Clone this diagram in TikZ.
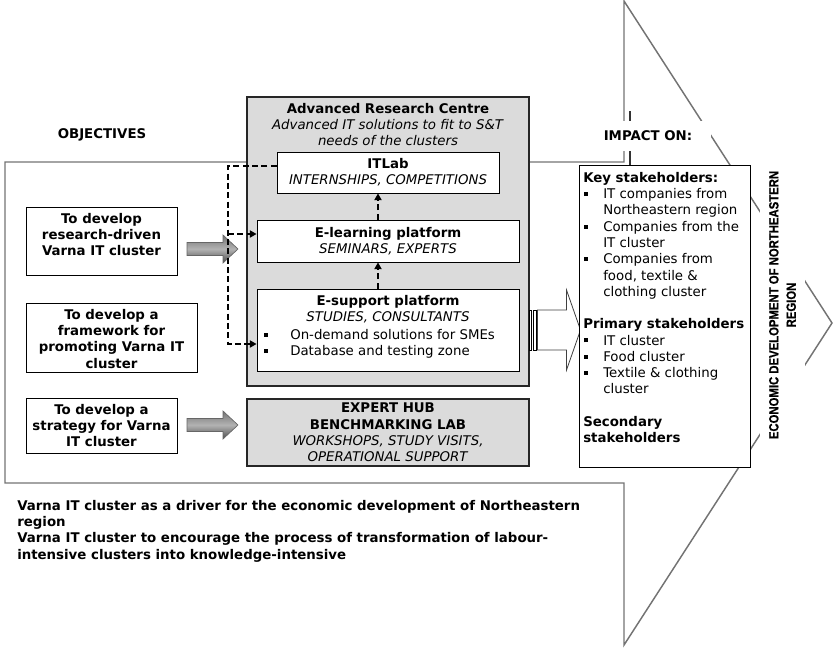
\documentclass[tikz,border=0pt]{standalone}
\usepackage{fontspec}
\setmainfont{DejaVu Sans}
\newfontfamily\narrowsans[FakeStretch=0.85,FakeBold=0.6]{Liberation Sans}
\usetikzlibrary{arrows.meta}

% list markers for the bulleted texts
\newcommand\smallsquare{\raisebox{2pt}{\rule{3pt}{3pt}}}
\newcommand\sqbullet{\makebox[15pt][l]{\hspace*{0.5pt}\smallsquare}}
\newcommand\sqindent{\hspace*{15pt}}
\newcommand\sqbulletwide{\makebox[20.25pt][l]{\hspace*{0.5pt}\smallsquare}}

\begin{document}
\begin{tikzpicture}[x=0.75pt,y=-0.75pt,
  every node/.style={font=\fontsize{10}{12.2}\selectfont, inner sep=0pt},
  wh/.style 2 args={minimum width=#1*0.75pt, minimum height=#2*0.75pt},
  whitebox/.style={draw=black, line width=0.75pt, fill=white},
  graybox/.style={draw=black!85, line width=0.9pt, fill=black!14},
  txt/.style={align=center},
  bigoutline/.style={draw=black!55, line width=1.1pt, line join=miter},
  dashlink/.style={draw=black, line width=0.8pt, dash pattern=on 4.5pt off 2.5pt},
  tip/.style={-{Triangle[length=5pt,width=5.5pt]}},
  grayarrow/.pic={
    \path[draw=black!60, line width=0.5pt, top color=black!55, bottom color=black!70, middle color=black!30]
      (-51,-6.5) -- (-15,-6.5) -- (-15,-14) -- (0,0) -- (-15,14) -- (-15,6.5) -- (-51,6.5) -- cycle;
  },
  stripedarrow/.pic={
    \draw[fill=white, line width=0.6pt] (10,-20) rectangle (12,20);
    \draw[fill=white, line width=0.6pt] (14,-20) rectangle (17,20);
    \draw[fill=white, draw=black!75, line width=0.6pt]
      (18,-20) -- (47,-20) -- (47,-40) -- (61,0) -- (47,40) -- (47,20) -- (18,20) -- cycle;
  }
]
\useasboundingbox (0,0) rectangle (834,647);

% large arrow: objectives -> impact
\draw[bigoutline] (5,162) -- (624,162) -- (624,1) -- (832,323) -- (624,645) -- (624,483) -- (5,483) -- cycle;

% headings
\node (objectives) at (102,134.5) {\bfseries OBJECTIVES};

% Advanced Research Centre and its platforms
\node[graybox, wh={282}{289}] (arc) at (388,241.5) {};
\node[whitebox, wh={222}{41}] (itlab) at (388,172.5) {};
\node[whitebox, wh={262}{42}] (elearn) at (388,241) {};
\node[whitebox, wh={262}{82}] (esup) at (388,330) {};
\node[graybox, wh={282}{67}] (hub) at (388,432.5) {};

\node[txt, anchor=north] (arctext) at (388,103)
  {\textbf{Advanced Research Centre}\\\textit{Advanced IT solutions to fit to S\&T}\\\textit{needs of the clusters}};
\node[txt, anchor=north] (itlabtext) at (388,158)
  {\textbf{ITLab}\\\textit{INTERNSHIPS, COMPETITIONS}};
\node[txt, anchor=north] (elearntext) at (388,227)
  {\textbf{E-learning platform}\\\textit{SEMINARS, EXPERTS}};
\node[txt, anchor=north] (esuptext) at (388,295)
  {\textbf{E-support platform}\\\textit{STUDIES, CONSULTANTS}};
\node[align=left, anchor=north west] (esuplist) at (263,329)
  {\sqbulletwide On-demand solutions for SMEs\\\sqbulletwide Database and testing zone};
\node[txt, anchor=north] (hubtext) at (388,403)
  {\textbf{EXPERT HUB}\\\textbf{BENCHMARKING LAB}\\\textit{WORKSHOPS, STUDY VISITS,}\\\textit{OPERATIONAL SUPPORT}};

% objectives
\node[whitebox, wh={151}{68}] (obj1) at (101.5,241) {};
\node[whitebox, wh={171}{69}] (obj2) at (111.5,337.5) {};
\node[whitebox, wh={151}{55}] (obj3) at (101.5,425.5) {};
\node[txt, anchor=north, font=\bfseries\fontsize{10}{12.2}\selectfont] (obj1text) at (101.5,213)
  {To develop\\research-driven\\Varna IT cluster};
\node[txt, anchor=north, font=\bfseries\fontsize{10}{12.2}\selectfont] (obj2text) at (111.5,309)
  {To develop a\\framework for\\promoting Varna IT\\cluster};
\node[txt, anchor=north, font=\bfseries\fontsize{10}{12.2}\selectfont] (obj3text) at (101.5,404)
  {To develop a\\strategy for Varna\\IT cluster};

\pic at (238,249) {grayarrow};
\pic at (238,425) {grayarrow};

% links between the platforms
\coordinate (dtop) at (228,166);
\coordinate (dmid) at (228,234);
\coordinate (dbot) at (228,344);
\coordinate (vx) at (378,0);
\draw[dashlink, tip] (itlab.west |- dtop) -- (dtop) -- (dbot) -- (esup.west |- dbot);
\draw[dashlink, tip] (dmid) -- (elearn.west |- dmid);
\draw[dashlink, tip] (esup.north -| vx) -- (elearn.south -| vx);
\draw[dashlink, tip] (elearn.north -| vx) -- (itlab.south -| vx);

\pic at (esup.east) {stripedarrow};

% stakeholders
\node[whitebox, wh={171}{302}] (stake) at (664.5,316) {};
\node[align=left, anchor=north west] (staketext) at (583,172)
  {\textbf{Key stakeholders:}\\
   \sqbullet IT companies from\\
   \sqindent Northeastern region\\
   \sqbullet Companies from the\\
   \sqindent IT cluster\\
   \sqbullet Companies from\\
   \sqindent food, textile \&\\
   \sqindent clothing cluster\\[12.2pt]
   \textbf{Primary stakeholders}\\
   \sqbullet IT cluster\\
   \sqbullet Food cluster\\
   \sqbullet Textile \& clothing\\
   \sqindent cluster\\[12.2pt]
   \textbf{Secondary}\\
   \textbf{stakeholders}};

\coordinate (impacttop) at (630,111);
\draw[draw=black!80, line width=1pt] (impacttop) -- (impacttop |- stake.north);
\node[fill=white, wh={126}{30}] (impact) at (648,136) {\bfseries IMPACT ON:};

% outcome written along the arrow head
\node[fill=white, rotate=90, align=center, wh={285}{45},
      font=\narrowsans\bfseries\fontsize{10}{13}\selectfont] (econ) at (782.5,305)
  {ECONOMIC DEVELOPMENT OF NORTHEASTERN\\REGION};

% expected results
\node[align=left, anchor=north west, font=\bfseries\fontsize{10}{12.2}\selectfont] (results) at (17,500)
  {Varna IT cluster as a driver for the economic development of Northeastern\\
   region\\
   Varna IT cluster to encourage the process of transformation of labour-\\
   intensive clusters into knowledge-intensive};
\end{tikzpicture}
\end{document}
